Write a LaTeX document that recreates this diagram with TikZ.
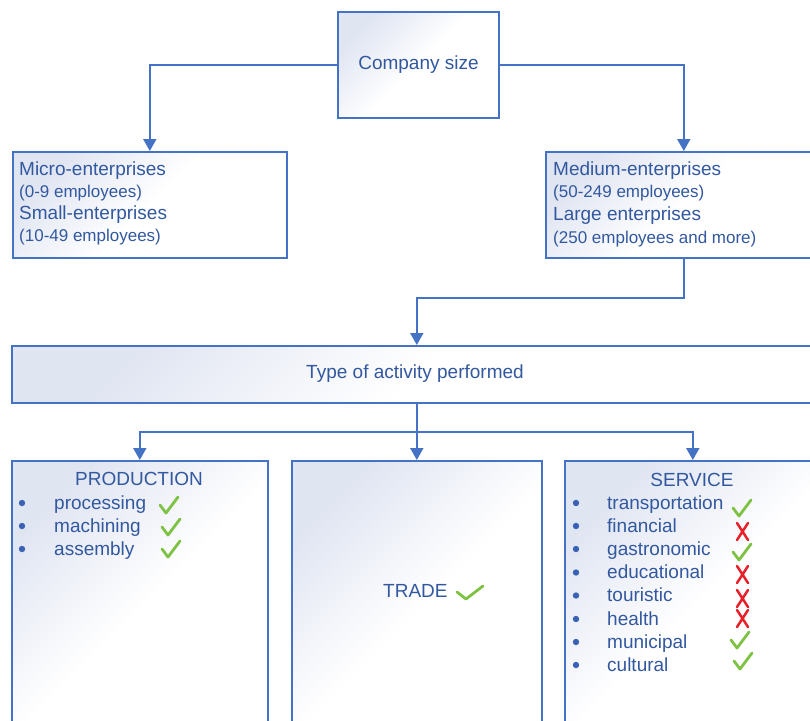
\documentclass[tikz,border=0pt]{standalone}
\usepackage{fontspec}
\setmainfont{Liberation Sans}
\usetikzlibrary{arrows.meta,calc}
\definecolor{boxline}{HTML}{4472C4}
\definecolor{boxtint}{RGB}{224,229,242}
\definecolor{inktext}{HTML}{32589F}
\definecolor{dotblue}{HTML}{3A62B4}
\definecolor{okgreen}{HTML}{7DC242}
\definecolor{nored}{HTML}{E8202A}

\begin{document}
\begin{tikzpicture}[x=1pt,y=1pt,
  box/.style={draw=boxline, line width=1.6pt, rectangle, inner sep=0pt,
    top color=boxtint, bottom color=white, middle color=white, shading angle=45,
    text=inktext, font=\fontsize{19}{23}\selectfont},
  lbl/.style={anchor=base west, inner sep=0pt, text=inktext, font=\fontsize{19}{23}\selectfont},
  sub/.style={lbl, font=\fontsize{17}{20}\selectfont},
  head/.style={lbl, anchor=base},
  arr/.style={draw=boxline, line width=2pt, -{Triangle[width=13pt,length=12pt]}},
  tick/.pic={\draw[okgreen, line width=2.8pt, line cap=round, line join=round]
    (0,8) -- (6,0) -- (18,16);},
  flattick/.pic={\draw[okgreen, line width=2.8pt, line cap=round, line join=round]
    (0,7) -- (9,0) -- (26,13);},
  cross/.pic={\draw[nored, line width=2.5pt, line cap=round]
    (0,0) -- (11,17) (0,17) -- (11,0);}
]
\useasboundingbox (0,0) rectangle (810,-720);
\fill[white] (0,0) rectangle (810,-720);
\clip (0,0) rectangle (810,-720);

% boxes
\node[box, minimum width=161pt, minimum height=106pt] (size) at (418.5,-65) {Company size};
\node[box, anchor=north west, minimum width=274pt, minimum height=106pt] (micro) at (12,-151) {};
\node[box, anchor=north west, minimum width=276pt, minimum height=106pt] (medium) at (545,-151) {};
\node[box, anchor=north west, minimum width=810pt, minimum height=57pt] (type) at (11,-345) {};
\node[text=inktext, font=\fontsize{19}{23}\selectfont, inner sep=0pt] (typetxt) at (415,-374) {Type of activity performed};
\node[box, anchor=north west, minimum width=256pt, minimum height=300pt] (prod) at (11,-460) {};
\node[box, anchor=north west, minimum width=250pt, minimum height=300pt] (trade) at (291,-460) {};
\node[box, anchor=north west, minimum width=256pt, minimum height=300pt] (serv) at (564,-460) {};

% connectors
\draw[arr] (size.west) -| (micro.north);
\draw[arr] (size.east) -| (medium.north);
\draw[arr] (medium.south) -- ++(0,-39) -| (type.north);
\coordinate (split) at ($(type.south)+(0,-28)$);
\draw[arr] (type.south) -- (trade.north);
\draw[arr] (split) -| (prod.north);
\draw[arr] (split) -| (serv.north);

% size classes
\node[lbl] (mi1) at (19,-175) {Micro-enterprises};
\node[sub] (mi2) at (19,-197) {(0-9 employees)};
\node[lbl] (mi3) at (19,-219) {Small-enterprises};
\node[sub] (mi4) at (19,-241) {(10-49 employees)};
\node[lbl] (me1) at (553,-175) {Medium-enterprises};
\node[sub] (me2) at (553,-197) {(50-249 employees)};
\node[lbl] (me3) at (553,-220) {Large enterprises};
\node[sub] (me4) at (553,-243) {(250 employees and more)};

% production
\node[head] (prodhead) at (139,-485) {PRODUCTION};
\foreach \t/\y [count=\i] in {processing/509, machining/532, assembly/555}{
  \fill[dotblue] (22,-\y+6) circle (3.2pt);
  \node[lbl] (p\i) at (54,-\y) {\t};
}
\pic at (160,-513) {tick};
\pic at (162,-535) {tick};
\pic at (162,-557) {tick};

% trade
\node[lbl] (tradetxt) at (383,-597) {TRADE};
\pic at (457,-599) {flattick};

% service
\node[head] (servhead) at (692,-486) {SERVICE};
\foreach \t/\y [count=\i] in {transportation/509, financial/532, gastronomic/555, educational/578.5,
  touristic/601.5, health/625, municipal/648, cultural/671}{
  \fill[dotblue] (576,-\y+6) circle (3.2pt);
  \node[lbl] (s\i) at (607,-\y) {\t};
}
\pic at (733,-516) {tick};
\pic at (737,-540) {cross};
\pic at (733,-560) {tick};
\pic at (737,-583) {cross};
\pic at (737,-607) {cross};
\pic at (737,-627) {cross};
\pic at (731,-648) {tick};
\pic at (734,-669) {tick};
\end{tikzpicture}
\end{document}
